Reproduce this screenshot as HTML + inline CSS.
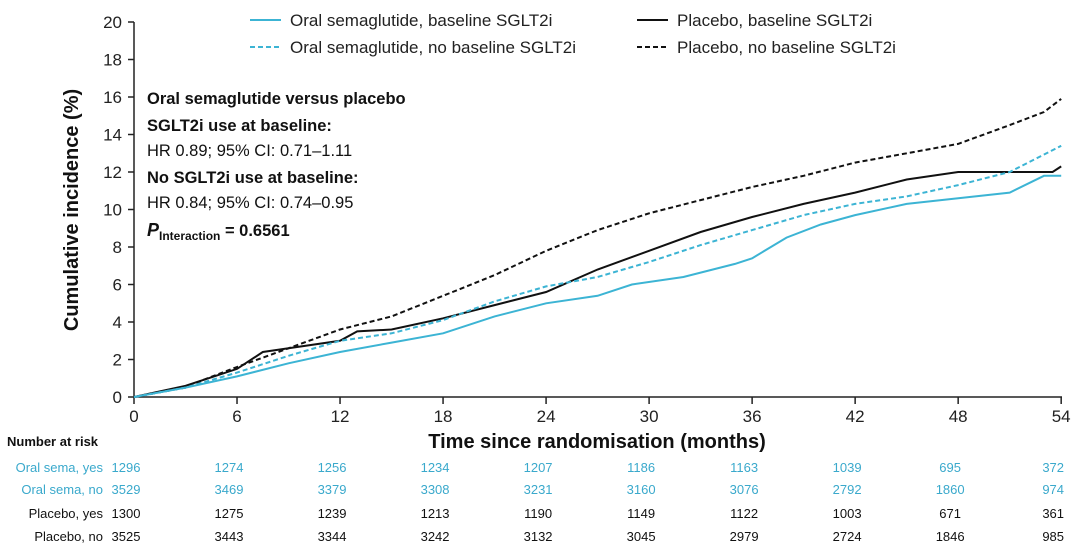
<!DOCTYPE html>
<html><head><meta charset="utf-8"><style>
html,body{margin:0;padding:0;background:#fff;}
svg{display:block;font-family:"Liberation Sans",Arial,sans-serif;}
</style></head><body>
<svg id="s" width="1080" height="550" viewBox="0 0 1080 550">
<g stroke="#222" stroke-width="1.5" fill="none">
<line x1="134" y1="22" x2="134" y2="397"/>
<line x1="134" y1="397" x2="1062" y2="397"/>
</g>
<g id="ticks" stroke="#222" stroke-width="1.5"></g>
<g id="lbl" font-size="17" fill="#222"></g>
<text transform="translate(78,210) rotate(-90)" text-anchor="middle" font-size="20" font-weight="bold" fill="#111">Cumulative incidence (%)</text>
<text x="597" y="448" text-anchor="middle" font-size="20" font-weight="bold" fill="#111">Time since randomisation (months)</text>
<g id="series" fill="none" stroke-width="2"></g>
<g font-size="17" fill="#222">
<line x1="250" y1="20" x2="281" y2="20" stroke="#3cb4d4" stroke-width="2"/>
<text x="290" y="26">Oral semaglutide, baseline SGLT2i</text>
<line x1="250" y1="47" x2="281" y2="47" stroke="#3cb4d4" stroke-width="2" stroke-dasharray="5,3"/>
<text x="290" y="53">Oral semaglutide, no baseline SGLT2i</text>
<line x1="637" y1="20" x2="668" y2="20" stroke="#111" stroke-width="2"/>
<text x="677" y="26">Placebo, baseline SGLT2i</text>
<line x1="637" y1="47" x2="668" y2="47" stroke="#111" stroke-width="2" stroke-dasharray="5,3"/>
<text x="677" y="53">Placebo, no baseline SGLT2i</text>
</g>
<g font-size="16.5" fill="#111">
<text x="147" y="104" font-weight="bold">Oral semaglutide versus placebo</text>
<text x="147" y="131" font-weight="bold">SGLT2i use at baseline:</text>
<text x="147" y="156">HR 0.89; 95% CI: 0.71–1.11</text>
<text x="147" y="183" font-weight="bold">No SGLT2i use at baseline:</text>
<text x="147" y="208">HR 0.84; 95% CI: 0.74–0.95</text>
<text x="147" y="236" font-weight="bold"><tspan font-style="italic" font-size="18">P</tspan><tspan font-size="12" dy="4">Interaction</tspan><tspan dy="-4"> = 0.6561</tspan></text>
</g>
<text x="7" y="446" font-size="13" font-weight="bold" fill="#111">Number at risk</text>
<g id="risk" font-size="13"></g>
</svg>
<script>
var NS="http://www.w3.org/2000/svg";
function X(m){return 134+m*17.17;}function Y(v){return 397-v*18.75;}
function el(p,t,a,txt){var e=document.createElementNS(NS,t);for(var k in a)e.setAttribute(k,a[k]);if(txt!==undefined)e.textContent=txt;document.getElementById(p).appendChild(e);}
for(var v=0;v<=20;v+=2){el("ticks","line",{x1:128,x2:134,y1:Y(v),y2:Y(v)});el("lbl","text",{x:122,y:Y(v)+6,"text-anchor":"end"},v);}
for(var m=0;m<=54;m+=6){el("ticks","line",{x1:X(m),x2:X(m),y1:397,y2:404});el("lbl","text",{x:X(m),y:422,"text-anchor":"middle"},m);}
var S=[
["#111","5,3",[0,0,3,0.5,4,0.9,6,1.6,9,2.6,12,3.6,15,4.3,18,5.4,21,6.5,24,7.8,27,8.9,30,9.8,33,10.5,36,11.2,39,11.8,42,12.5,45,13.0,48,13.5,51,14.5,53,15.2,54,15.9]],
["#111","",[0,0,3,0.6,6,1.5,7.5,2.4,9,2.6,12,3.0,13,3.5,15,3.6,18,4.2,21,4.9,24,5.6,27,6.8,30,7.8,33,8.8,36,9.6,39,10.3,42,10.9,45,11.6,48,12.0,51,12.0,53.5,12.0,54,12.3]],
["#3cb4d4","5,3",[0,0,3,0.5,6,1.3,9,2.2,12,3.0,15,3.4,18,4.1,21,5.1,24,5.9,27,6.4,30,7.2,33,8.1,36,8.9,39,9.7,42,10.3,45,10.7,48,11.3,51,12.0,54,13.4]],
["#3cb4d4","",[0,0,3,0.5,6,1.1,9,1.8,12,2.4,15,2.9,18,3.4,21,4.3,24,5.0,27,5.4,29,6.0,32,6.4,35,7.1,36,7.4,38,8.5,40,9.2,42,9.7,45,10.3,48,10.6,51,10.9,53,11.8,54,11.8]]];
S.forEach(function(s){var p=[];for(var i=0;i<s[2].length;i+=2)p.push(X(s[2][i]).toFixed(1)+","+Y(s[2][i+1]).toFixed(1));var a={points:p.join(" "),stroke:s[0]};if(s[1])a["stroke-dasharray"]=s[1];el("series","polyline",a);});
var R=[["Oral sema, yes","#3aa9cc",[1296,1274,1256,1234,1207,1186,1163,1039,695,372]],
["Oral sema, no","#3aa9cc",[3529,3469,3379,3308,3231,3160,3076,2792,1860,974]],
["Placebo, yes","#111",[1300,1275,1239,1213,1190,1149,1122,1003,671,361]],
["Placebo, no","#111",[3525,3443,3344,3242,3132,3045,2979,2724,1846,985]]];
var ys=[472,494,518,541];
R.forEach(function(r,i){el("risk","text",{x:103,y:ys[i],"text-anchor":"end",fill:r[1]},r[0]);r[2].forEach(function(n,j){el("risk","text",{x:X(j*6)-8,y:ys[i],"text-anchor":"middle",fill:r[1]},n);});});
</script>
</body></html>
